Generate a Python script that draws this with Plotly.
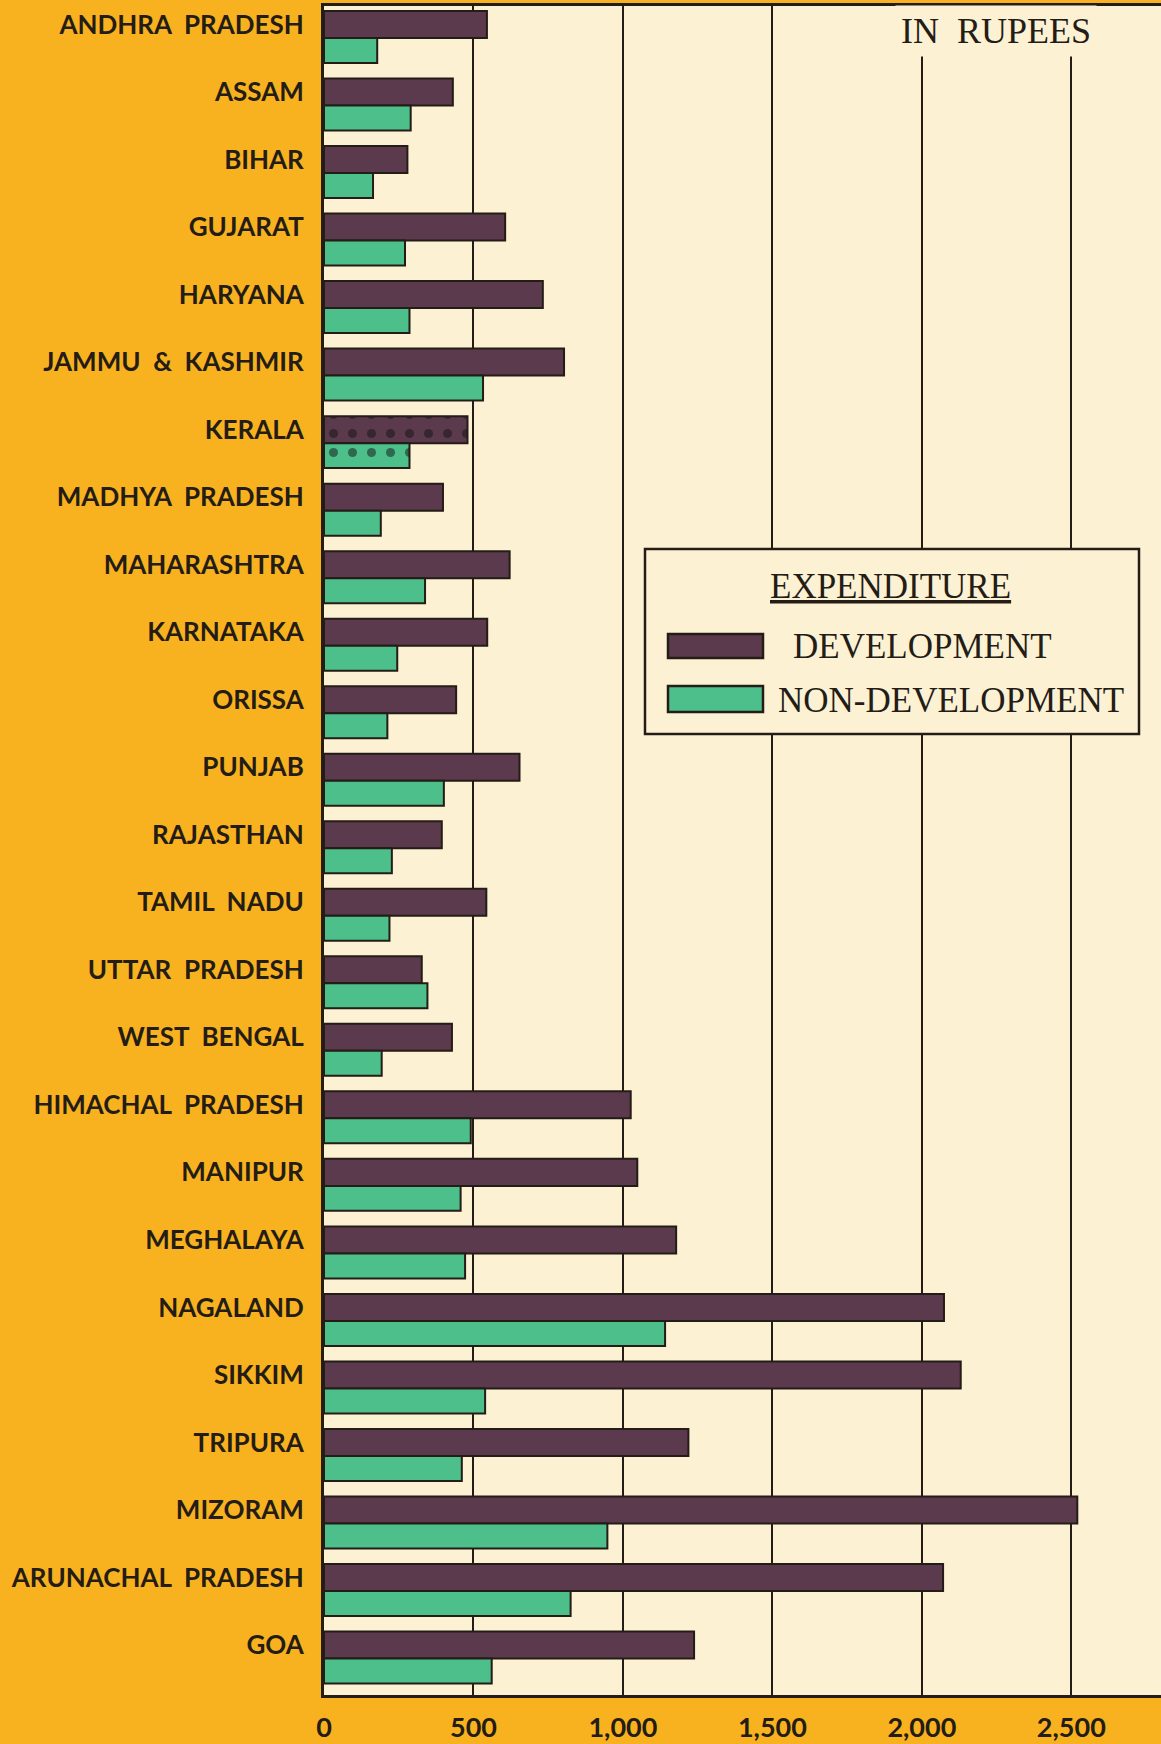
import plotly.graph_objects as go

states = ["ANDHRA  PRADESH", "ASSAM", "BIHAR", "GUJARAT", "HARYANA", "JAMMU  &  KASHMIR",
          "KERALA", "MADHYA  PRADESH", "MAHARASHTRA", "KARNATAKA", "ORISSA", "PUNJAB",
          "RAJASTHAN", "TAMIL  NADU", "UTTAR  PRADESH", "WEST  BENGAL", "HIMACHAL  PRADESH",
          "MANIPUR", "MEGHALAYA", "NAGALAND", "SIKKIM", "TRIPURA", "MIZORAM",
          "ARUNACHAL  PRADESH", "GOA"]
development = [545, 431, 279, 606, 732, 803, 480, 398, 621, 546, 442, 654, 394, 543,
               327, 428, 1026, 1048, 1178, 2074, 2130, 1219, 2520, 2071, 1238]
non_development = [178, 290, 164, 271, 286, 532, 286, 190, 338, 245, 212, 401, 227, 219,
                   346, 193, 491, 457, 472, 1141, 539, 461, 948, 825, 561]
x_ticks = [0, 500, 1000, 1500, 2000, 2500]
x_tick_labels = ["0", "500", "1,000", "1,500", "2,000", "2,500"]
dotted_state = "KERALA"

ORANGE = "#F9B21F"
CREAM = "#FCF1D3"
PURPLE = "#5B3A4D"
GREEN = "#4CBF8B"
INK = "#241c16"

W, H = 1161, 1744
ML, MR, MT, MB = 324, 0, 6, 49
PW, PH = W - ML - MR, H - MT - MB

def px(x):
    return (x - ML) / PW

def py(y):
    return (H - MB - y) / PH

ypos = list(range(len(states)))
patterns = ["." if s == dotted_state else "" for s in states]

fig = go.Figure()
fig.add_trace(go.Bar(
    y=ypos, x=development, orientation="h", name="DEVELOPMENT",
    offset=-0.2, width=0.4,
    marker=dict(color=PURPLE, line=dict(color=INK, width=2),
                pattern=dict(shape=patterns, fgcolor="#111111", size=19, solidity=0.18)),
    showlegend=False,
))
fig.add_trace(go.Bar(
    y=ypos, x=non_development, orientation="h", name="NON-DEVELOPMENT",
    offset=0.2, width=0.37,
    marker=dict(color=GREEN, line=dict(color=INK, width=2),
                pattern=dict(shape=patterns, fgcolor="#111111", size=19, solidity=0.18)),
    showlegend=False,
))

label_font = dict(family="Lato", size=26, color=INK, weight="bold")
num_font = dict(family="Lato", size=27, color=INK, weight="bold")
serif = "Liberation Serif"

fig.update_layout(
    width=W, height=H,
    margin=dict(l=ML, r=MR, t=MT, b=MB, autoexpand=False),
    paper_bgcolor=ORANGE, plot_bgcolor=CREAM,
    barmode="overlay",
    xaxis=dict(range=[0, 2800], tickvals=x_ticks, ticktext=x_tick_labels,
               showgrid=True, gridcolor=INK, gridwidth=2, zeroline=False,
               showline=True, linecolor=INK, linewidth=3, mirror=True,
               ticks="", ticklabelstandoff=7, tickfont=num_font, fixedrange=True),
    yaxis=dict(range=[24.74, -0.274], tickvals=ypos, ticktext=states,
               showgrid=False, zeroline=False, showline=True, linecolor=INK,
               linewidth=3, ticks="", ticklabelstandoff=12, tickfont=label_font,
               fixedrange=True),
    font=dict(family="Lato", color=INK),
)

# "IN RUPEES"
fig.add_annotation(x=px(996), y=py(31), xref="paper", yref="paper",
                   xanchor="center", yanchor="middle",
                   text="IN  RUPEES", showarrow=False, bgcolor=CREAM,
                   font=dict(family=serif, size=36, color=INK), borderpad=5)

# Legend box
fig.add_shape(type="rect", xref="paper", yref="paper",
              x0=px(645), x1=px(1139), y0=py(734), y1=py(549),
              line=dict(color=INK, width=2.5), fillcolor=CREAM, layer="above")
fig.add_shape(type="rect", xref="paper", yref="paper",
              x0=px(668), x1=px(763), y0=py(658), y1=py(634),
              line=dict(color=INK, width=2.5), fillcolor=PURPLE, layer="above")
fig.add_shape(type="rect", xref="paper", yref="paper",
              x0=px(668), x1=px(763), y0=py(712), y1=py(686),
              line=dict(color=INK, width=2.5), fillcolor=GREEN, layer="above")
fig.add_annotation(x=px(890), y=py(586), xref="paper", yref="paper",
                   xanchor="center", yanchor="middle",
                   text="EXPENDITURE", showarrow=False,
                   font=dict(family=serif, size=35, color=INK, lineposition="under"))
fig.add_annotation(x=px(791), y=py(646), xref="paper", yref="paper",
                   xanchor="left", yanchor="middle",
                   text="DEVELOPMENT", showarrow=False,
                   font=dict(family=serif, size=35, color=INK))
fig.add_annotation(x=px(776), y=py(700), xref="paper", yref="paper",
                   xanchor="left", yanchor="middle",
                   text="NON-DEVELOPMENT", showarrow=False,
                   font=dict(family=serif, size=35, color=INK))

fig.write_html("out.html", config={"displayModeBar": False},
               post_script="document.body.style.margin='0';document.body.style.background='%s';" % ORANGE)
